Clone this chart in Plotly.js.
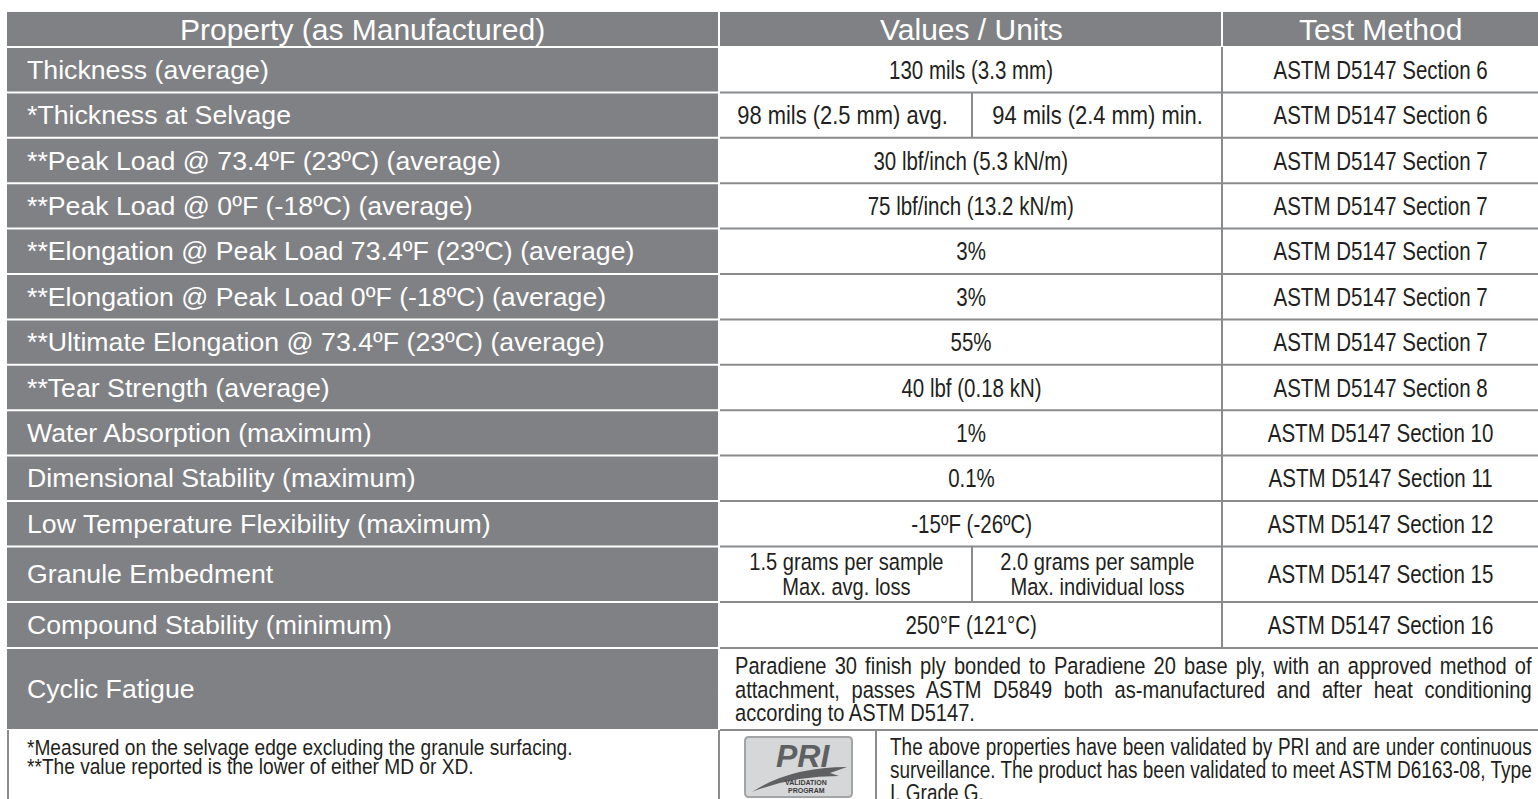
<!DOCTYPE html>
<html><head><meta charset="utf-8">
<script src="https://cdn.plot.ly/plotly-3.0.1.min.js"></script>
<style>html,body{margin:0;padding:0;background:#fff;overflow:hidden}#chart{width:1538px;height:799px}</style>
</head><body><div id="chart"></div>
<script>
// ---------------- DATA ----------------
const headers = ["Property (as Manufactured)", "Values / Units", "Test Method"];
const properties = [
  "Thickness (average)",
  "*Thickness at Selvage",
  "**Peak Load @ 73.4ºF (23ºC) (average)",
  "**Peak Load @ 0ºF (-18ºC) (average)",
  "**Elongation @ Peak Load 73.4ºF (23ºC) (average)",
  "**Elongation @ Peak Load 0ºF (-18ºC) (average)",
  "**Ultimate Elongation @ 73.4ºF (23ºC) (average)",
  "**Tear Strength (average)",
  "Water Absorption (maximum)",
  "Dimensional Stability (maximum)",
  "Low Temperature Flexibility (maximum)",
  "Granule Embedment",
  "Compound Stability (minimum)",
  "Cyclic Fatigue"
];
const values = [
  "130 mils (3.3 mm)",
  ["98 mils (2.5 mm) avg.", "94 mils (2.4 mm) min."],
  "30 lbf/inch (5.3 kN/m)",
  "75 lbf/inch (13.2 kN/m)",
  "3%",
  "3%",
  "55%",
  "40 lbf (0.18 kN)",
  "1%",
  "0.1%",
  "-15ºF (-26ºC)",
  ["1.5 grams per sample<br>Max. avg. loss", "2.0 grams per sample<br>Max. individual loss"],
  "250°F (121°C)",
  null
];
const methods = [
  "ASTM D5147 Section 6", "ASTM D5147 Section 6", "ASTM D5147 Section 7", "ASTM D5147 Section 7",
  "ASTM D5147 Section 7", "ASTM D5147 Section 7", "ASTM D5147 Section 7", "ASTM D5147 Section 8",
  "ASTM D5147 Section 10", "ASTM D5147 Section 11", "ASTM D5147 Section 12", "ASTM D5147 Section 15",
  "ASTM D5147 Section 16", null
];
const cyclicLines = [
  "Paradiene 30 finish ply bonded to Paradiene 20 base ply, with an approved method of",
  "attachment, passes ASTM D5849 both as-manufactured and after heat conditioning",
  "according to ASTM D5147."
];
const footnotes = [
  "*Measured on the selvage edge excluding the granule surfacing.",
  "**The value reported is the lower of either MD or XD."
];
const priLines = [
  "The above properties have been validated by PRI and are under continuous",
  "surveillance. The product has been validated to meet ASTM D6163-08, Type",
  "I, Grade G."
];
const logoText = ["PRI", "VALIDATION", "PROGRAM"];

// ---------------- LAYOUT ----------------
const W = 1538, H = 799;
const X_LEFT = 7, X_COL1 = 718, X_COL2 = 720, X_SPLIT = 972, X_COL3 = 1222, X_RIGHT = 1538, X_LOGO = 876;
const Y_TOP = 12, Y_HEAD = 47;
const rowHeights = [45.4,45.4,45.4,45.4,45.4,45.4,45.4,45.4,45.4,45.4,45.4,55.6,46,82];
const GRAY = "#808184", LINE = "#8a8b8d", DARK = "#231f20";
const SANS = '"Liberation Sans", Arial, sans-serif';
const CONDENSE = 0.82;   // horizontal squeeze imitating the narrow face of the original

const shapes = [], annotations = [], meta = {};
function rect(x0,x1,y0,y1,fill){shapes.push({type:'rect',xref:'x',yref:'y',x0,x1,y0,y1,fillcolor:fill,line:{width:0},layer:'below'});}
function line(x0,y0,x1,y1,color,w){shapes.push({type:'line',xref:'x',yref:'y',x0,y0,x1,y1,line:{color:color||LINE,width:w||2}});}
function text(t,x,y,opt){
  annotations.push(Object.assign({text:t,x,y,xref:'x',yref:'y',showarrow:false,xanchor:'center',yanchor:'middle',
    font:{family:SANS,size:25,color:DARK}},opt||{}));
  return annotations.length-1;
}
// narrow text: squeezed horizontally, optional tight line gap and justified width
function ntext(t,x,y,size,opt,m){
  const idx = text(t,x,y,Object.assign({font:{family:SANS,size:size,color:DARK}},opt||{}));
  meta[idx] = Object.assign({scale:CONDENSE, gap:0, justify:0}, m||{});
  return idx;
}

// header
rect(X_LEFT, X_COL1, Y_TOP, Y_HEAD-1, GRAY);
rect(X_COL2, X_COL3-1, Y_TOP, Y_HEAD-1, GRAY);
rect(X_COL3+1, X_RIGHT, Y_TOP, Y_HEAD-1, GRAY);
const headCY = (Y_TOP + Y_HEAD - 1)/2;
const headFont = {family:SANS, size:30, color:'#ffffff'};
text(headers[0], (X_LEFT+X_COL1)/2, headCY, {font:headFont});
text(headers[1], (X_COL2+X_COL3)/2, headCY, {font:headFont});
text(headers[2], (X_COL3+X_RIGHT)/2, headCY, {font:headFont});

// body
let y = Y_HEAD;
const bounds = [y];
rowHeights.forEach(h => { y += h; bounds.push(y); });
properties.forEach((p, i) => {
  const t = bounds[i], b = bounds[i+1];
  rect(X_LEFT, X_COL1, t+1, b-1, GRAY);
  const cy = (t+b)/2;
  text(p, 25, cy, {xanchor:'left', align:'left', font:{family:SANS, size:26.7, color:'#ffffff'}});
  if (i > 0) line(X_COL2, t, X_RIGHT, t);
  const v = values[i];
  if (Array.isArray(v)) {
    line(X_SPLIT, t, X_SPLIT, b);
    [[X_COL2, X_SPLIT], [X_SPLIT, X_COL3]].forEach((xs, k) => {
      const multi = v[k].indexOf('<br>') >= 0;
      ntext(v[k], (xs[0]+xs[1])/2 - (k === 0 && !multi ? 4 : 0), cy, multi ? 24.5 : 25.5, {}, {gap:25, scale: multi ? CONDENSE : 0.86});
    });
  } else if (v) {
    ntext(v, (X_COL2+X_COL3)/2, cy, 25);
  }
  if (methods[i]) ntext(methods[i], (X_COL3+X_RIGHT)/2, cy, 25);
});
line(X_COL3, Y_HEAD, X_COL3, bounds[bounds.length-2]);
// cyclic fatigue paragraph (justified)
{
  const i = properties.length-1, cy = (bounds[i]+bounds[i+1])/2;
  ntext(cyclicLines.join('<br>'), 733, cy, 24.5, {xanchor:'left', align:'left'}, {gap:23.5, justify:1530-733});
}
// footer
const yF = bounds[bounds.length-1];
line(X_COL2, yF, X_RIGHT, yF);
line(X_LEFT+1, yF, X_LEFT+1, H+2);
line(X_COL1+1, yF, X_COL1+1, H+2);
line(X_LOGO, yF, X_LOGO, H+2);
ntext(footnotes.join('<br>'), 25, yF + 17 + 9.75, 22, {xanchor:'left', align:'left'}, {gap:19.5, scale:0.87});
ntext(priLines.join('<br>'), 888, yF + 16 + 23, 24.5, {xanchor:'left', align:'left'}, {gap:23, justify:1530-888});
// PRI logo
shapes.push({type:'path', xref:'x', yref:'y', path:'M 749 737 L 848 737 Q 852 737 852 741 L 852 793 Q 852 797 848 797 L 749 797 Q 745 797 745 793 L 745 741 Q 745 737 749 737 Z',
  fillcolor:'#d6d7d8', line:{color:'#a3a4a6', width:2}});
shapes.push({type:'path', xref:'x', yref:'y', path:'M 752 792 Q 790 767 847 767 L 830 773 L 839 776 Q 792 776 752 792 Z',
  fillcolor:'#5f6062', line:{width:0}});
text(logoText[0], 803, 756, {font:{family:SANS, size:32, color:'#5f6062', weight:'bold', style:'italic'}});
text(logoText[1], 806, 782, {font:{family:SANS, size:7, color:'#3a3a3c', weight:'bold'}});
text(logoText[2], 806, 790, {font:{family:SANS, size:7, color:'#3a3a3c', weight:'bold'}});

const layout = {
  width: W, height: H, margin:{l:0,r:0,t:0,b:0}, paper_bgcolor:'#ffffff', plot_bgcolor:'#ffffff',
  xaxis:{range:[0,W], visible:false, fixedrange:true},
  yaxis:{range:[H,0], visible:false, fixedrange:true},
  showlegend:false, shapes, annotations
};
Plotly.newPlot('chart', [], layout, {staticPlot:true, displayModeBar:false}).then(() => {
  Object.keys(meta).forEach(key => {
    const idx = +key, m = meta[idx];
    const g = document.querySelector('g.annotation[data-index="' + idx + '"]');
    if (!g) return;
    const t = g.querySelector('text.annotation-text');
    if (!t) return;
    const fs = annotations[idx].font.size;
    const lines = Array.from(t.querySelectorAll('tspan.line'));
    if (lines.length > 1 && m.gap) {
      const n = lines.length, off = (n-1) * (1.3*fs - m.gap) / 2;
      lines.forEach((ln, k) => ln.setAttribute('dy', (k*m.gap + off) + 'px'));
    }
    let s = m.scale;
    if (m.justify && lines.length > 1) {
      const js = lines.slice(0, -1);
      const widths = js.map(ln => ln.getComputedTextLength());
      s = Math.min(s, m.justify / Math.max.apply(null, widths));
      js.forEach((ln, k) => {
        const spaces = (ln.textContent.match(/ /g) || []).length;
        if (spaces) ln.style.wordSpacing = ((m.justify / s - widths[k]) / spaces) + 'px';
      });
    }
    const x = parseFloat(t.getAttribute('x')) || 0;
    const prev = t.getAttribute('transform') || '';
    t.setAttribute('transform', (prev + ' translate(' + (x*(1-s)) + ',0) scale(' + s + ',1)').trim());
  });
});
</script>
</body></html>
